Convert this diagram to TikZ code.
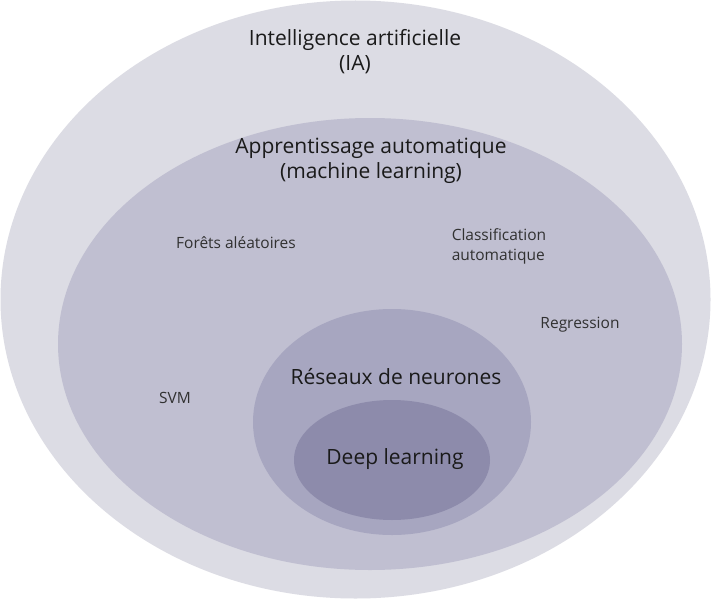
\documentclass[tikz,border=0pt]{standalone}
\usepackage{fontspec}
\setmainfont{Open Sans}
\definecolor{c1}{HTML}{DCDCE4}
\definecolor{c2}{HTML}{C0BFD1}
\definecolor{c3}{HTML}{A7A6C0}
\definecolor{c4}{HTML}{8D8BAB}
\definecolor{tx}{HTML}{1A1A1A}
\tikzset{big/.style={font=\fontsize{21}{25}\selectfont,text=tx,align=center},
small/.style={font=\fontsize{15.5}{20}\selectfont,text=tx!90,align=left}}
\begin{document}
\begin{tikzpicture}[x=1pt,y=-1pt]
\useasboundingbox[fill=white] (0,0) rectangle (711,599);
\fill[c1] (355.5,299.5) ellipse [x radius=355, y radius=299];
\fill[c2] (370,344) ellipse [x radius=312, y radius=226];
\fill[c3] (392,422) ellipse [x radius=139, y radius=113];
\fill[c4] (392,460) ellipse [x radius=98, y radius=60];
\node[big] (ia) at (355,52) {Intelligence artificielle\\(IA)};
\node[big] (ml) at (371,161) {Apprentissage automatique\\(machine learning)};
\node[small] (rf) at (236,243) {Forêts aléatoires};
\node[small] (cl) at (499,246) {Classification\\automatique};
\node[small] (rg) at (580,325) {Regression};
\node[small] (svm) at (175,398) {SVM};
\node[big] (rn) at (396,377) {Réseaux de neurones};
\node[big] (dl) at (395,459) {Deep learning};
\end{tikzpicture}
\end{document}
